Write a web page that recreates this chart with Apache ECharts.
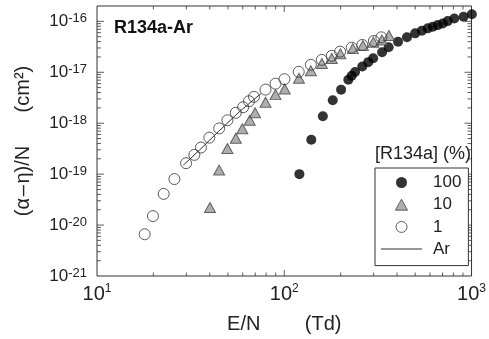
<!DOCTYPE html>
<html>
<head>
<meta charset="utf-8">
<script src="https://cdn.jsdelivr.net/npm/echarts@6/dist/echarts.min.js"></script>
<style>
  html, body { margin: 0; padding: 0; background: #fff; }
  #chart { width: 489px; height: 339px; }
</style>
</head>
<body>
<div id="chart"></div>
<script>
// Effective ionization coefficient (alpha - eta)/N vs E/N for R134a-Ar mixtures
// Each pair: [E/N (Td), (alpha-eta)/N (cm^2)]
const r134a100 = [
  [120.4, 1.00e-19], [139.4, 4.72e-19], [160.7, 1.37e-18], [181.5, 2.82e-18],
  [201.1, 4.56e-18], [219.8, 7.15e-18], [229.1, 8.55e-18], [238.8, 1.01e-17],
  [261, 1.30e-17], [280.6, 1.58e-17], [298.4, 1.89e-17], [333, 2.48e-17],
  [361, 3.10e-17], [405, 3.98e-17], [452, 4.85e-17], [500, 5.81e-17],
  [543, 6.53e-17], [584, 7.28e-17], [621, 7.82e-17], [660, 8.43e-17],
  [702, 9.10e-17], [746, 1.01e-16], [809, 1.14e-16], [907, 1.23e-16],
  [1004, 1.38e-16]
];
const r134a10 = [
  [40.1, 2.21e-20], [44.9, 1.20e-19], [49.7, 3.18e-19], [55.1, 5.06e-19],
  [59.7, 7.8e-19], [65.4, 1.14e-18], [69.8, 1.60e-18], [79.4, 2.58e-18],
  [89.8, 3.64e-18], [100.6, 4.71e-18], [119.8, 7.6e-18], [138.7, 1.07e-17],
  [158.7, 1.49e-17], [179.3, 1.87e-17], [199.4, 2.30e-17], [232.3, 2.91e-17],
  [263, 3.36e-17], [299, 3.90e-17], [332, 4.31e-17], [362, 5.26e-17]
];
const r134a1 = [
  [17.97, 6.6e-21], [19.9, 1.50e-20], [22.7, 4.09e-20], [25.9, 8.0e-20],
  [29.9, 1.64e-19], [33.1, 2.39e-19], [35.9, 3.33e-19], [39.8, 5.21e-19],
  [44.9, 7.9e-19], [49.7, 1.14e-18], [55.1, 1.60e-18], [60.3, 2.06e-18],
  [64.8, 2.70e-18], [68.9, 3.29e-18], [79.4, 4.56e-18], [89.8, 5.97e-18],
  [100.2, 7.31e-18], [119.4, 1.02e-17], [138.7, 1.40e-17], [158.7, 1.75e-17],
  [179.3, 2.10e-17], [198.6, 2.54e-17], [229.1, 3.04e-17], [261, 3.44e-17],
  [301, 4.11e-17], [330, 4.85e-17]
];
const pureAr = [
  [28.9, 1.50e-19], [35.2, 2.95e-19], [44.9, 7.08e-19], [57.4, 1.66e-18], [75.0, 3.81e-18]
];

const legendNames = ['100', '10', '1', 'Ar'];
const xMajor = [10, 100, 1000];
const yMajor = [1e-21, 1e-20, 1e-19, 1e-18, 1e-17, 1e-16];
const X_MIN = 10, X_MAX = 1000, Y_MIN = 1e-21, Y_MAX = 2e-16;

// minor ticks at 2..9 of each decade
function minorTicks(decades, upper) {
  const out = [];
  decades.forEach(function (d) {
    for (let k = 2; k <= 9; k++) {
      const v = k * d;
      if (v <= upper) out.push(v);
    }
  });
  return out;
}
const xMinor = minorTicks([10, 100], X_MAX);
const yMinor = minorTicks(yMajor, Y_MAX * 0.999);

const FONT = '"Liberation Sans", Arial, sans-serif';
const AX = '#333';

// tick anchors sit a hair inside the frame; the symbol offset pushes each mark inward
const X_LO = X_MIN * 1.005, X_HI = X_MAX / 1.005;
const Y_LO = Y_MIN * 1.02, Y_HI = Y_MAX / 1.02;

function tickSeries(values, isX, anchor, len, dir) {
  return {
    type: 'scatter', silent: true, clip: false, z: 2,
    symbol: 'rect',
    symbolSize: isX ? [1, len] : [len, 1],
    symbolOffset: isX ? [0, dir * (len / 2 - 0.4)] : [dir * (len / 2 - 0.4), 0],
    itemStyle: { color: AX },
    data: values.map(function (v) { return isX ? [v, anchor] : [anchor, v]; })
  };
}
const tickSeriesList = [
  tickSeries(xMajor.slice(1, 2), true, Y_LO, 6, -1),
  tickSeries(xMinor, true, Y_LO, 3.5, -1),
  tickSeries(xMajor.slice(1, 2), true, Y_HI, 6, 1),
  tickSeries(xMinor, true, Y_HI, 3.5, 1),
  tickSeries(yMajor.slice(1), false, X_LO, 7, 1),
  tickSeries(yMinor, false, X_LO, 4, 1),
  tickSeries(yMajor.slice(1), false, X_HI, 7, -1),
  tickSeries(yMinor, false, X_HI, 4, -1)
];

function powLabel(v) {
  const e = Math.round(Math.log10(v));
  return '{b|10}{s|' + e + '}';
}

const chart = echarts.init(document.getElementById('chart'), null, { renderer: 'canvas' });
chart.setOption({
  animation: false,
  backgroundColor: '#fff',
  grid: { left: 97, right: 14.7, top: 6, bottom: 61.3, containLabel: false,
    show: true, borderColor: AX, borderWidth: 1, backgroundColor: 'rgba(0,0,0,0)' },
  xAxis: {
    type: 'log', logBase: 10, min: X_MIN, max: X_MAX,
    axisLine: { show: false },
    axisTick: { show: false },
    axisLabel: {
      customValues: xMajor, margin: 7, formatter: powLabel,
      rich: {
        b: { fontFamily: FONT, fontSize: 20, color: '#222', lineHeight: 22 },
        s: { fontFamily: FONT, fontSize: 12, color: '#222', verticalAlign: 'top', lineHeight: 12 }
      }
    },
    splitLine: { show: false },
    name: 'E/N        (Td)', nameLocation: 'middle', nameGap: 38,
    nameTextStyle: { fontFamily: FONT, fontSize: 20, color: '#222' }
  },
  yAxis: {
    type: 'log', logBase: 10, min: Y_MIN, max: Y_MAX,
    axisLine: { show: false },
    axisTick: { show: false },
    axisLabel: {
      customValues: yMajor, margin: 10, formatter: powLabel,
      rich: {
        b: { fontFamily: FONT, fontSize: 17, color: '#222', lineHeight: 18 },
        s: { fontFamily: FONT, fontSize: 13, color: '#222', verticalAlign: 'top', lineHeight: 12 }
      }
    },
    splitLine: { show: false },
    name: '(α\u200a–\u200aη)/N      (cm²)', nameLocation: 'middle', nameGap: 64,
    nameTextStyle: { fontFamily: FONT, fontSize: 20, color: '#222' }
  },
  legend: {
    orient: 'vertical', left: 375, top: 168,
    padding: [6, 7, 8, 6],
    itemWidth: 41, itemHeight: 11, itemGap: 5.2,
    borderColor: AX, borderWidth: 1, backgroundColor: '#fff',
    symbolKeepAspect: true,
    textStyle: { fontFamily: FONT, fontSize: 17, lineHeight: 17, color: '#222', padding: [0, 0, 0, 6] },
    data: [
      { name: legendNames[0], icon: 'circle', itemStyle: { color: '#000' } },
      { name: legendNames[1], icon: 'path://M0,10L5.5,0L11,10Z',
        itemStyle: { color: '#9a9a9a', borderColor: '#444', borderWidth: 1 } },
      { name: legendNames[2], icon: 'circle',
        itemStyle: { color: 'rgba(255,255,255,0)', borderColor: '#333', borderWidth: 1 } },
      { name: legendNames[3], icon: 'path://M0,0H41V1H0Z',
        itemStyle: { color: '#333', borderWidth: 0 } }
    ]
  },
  graphic: { elements: [
    { id: 'panelTitle', type: 'text', left: 114, top: 19,
      style: { text: 'R134a-Ar', fontFamily: FONT, fontSize: 18, fontWeight: 'bold', fill: '#111' } },
    { id: 'legendTitle', type: 'text', left: 375, top: 145,
      style: { text: '[R134a] (%)', fontFamily: FONT, fontSize: 18, fill: '#222' } }
  ] },
  series: tickSeriesList.concat([
    { name: legendNames[0], type: 'scatter', data: r134a100, symbol: 'circle', symbolSize: 10,
      itemStyle: { color: '#000' }, clip: false, z: 3 },
    { name: legendNames[1], type: 'scatter', data: r134a10, symbol: 'triangle', symbolSize: [11, 10],
      itemStyle: { color: '#9a9a9a', borderColor: '#444', borderWidth: 1 }, z: 4 },
    { name: legendNames[2], type: 'scatter', data: r134a1, symbol: 'circle', symbolSize: 11,
      itemStyle: { color: 'rgba(255,255,255,0)', borderColor: '#333', borderWidth: 1 }, z: 5 },
    { name: legendNames[3], type: 'line', data: pureAr, symbol: 'none', showSymbol: false,
      lineStyle: { color: '#333', width: 1 }, itemStyle: { color: '#333' }, z: 6 }
  ])
});
</script>
</body>
</html>
